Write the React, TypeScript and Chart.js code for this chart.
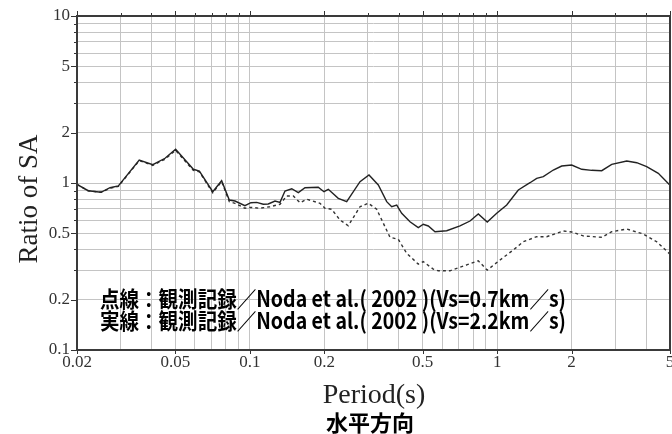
import React, { useEffect, useRef } from 'react';
import { Chart, registerables } from 'chart.js';

Chart.register(...registerables);

// 実線: Vs=2.2km/s
const solidPeriods = [0.02, 0.0222, 0.025, 0.0272, 0.0294, 0.0357, 0.0405, 0.0454, 0.0501, 0.0591, 0.0625, 0.0708, 0.0769, 0.0826, 0.0871, 0.0955, 0.101, 0.1066, 0.1133, 0.1187, 0.1264, 0.1324, 0.1387, 0.1477, 0.157, 0.1671, 0.189, 0.1994, 0.2076, 0.2278, 0.2464, 0.2789, 0.3032, 0.3307, 0.3576, 0.3746, 0.3926, 0.4112, 0.4442, 0.4798, 0.5028, 0.5267, 0.5606, 0.6252, 0.7075, 0.7768, 0.839, 0.912, 0.996, 1.093, 1.218, 1.358, 1.445, 1.537, 1.687, 1.824, 2.002, 2.198, 2.412, 2.648, 2.906, 3.342, 3.668, 4.024, 4.484, 5.0];
const solidRatios = [0.98, 0.899, 0.88, 0.937, 0.96, 1.373, 1.287, 1.406, 1.591, 1.208, 1.18, 0.887, 1.032, 0.791, 0.78, 0.731, 0.762, 0.766, 0.746, 0.749, 0.78, 0.766, 0.896, 0.924, 0.875, 0.937, 0.943, 0.887, 0.917, 0.81, 0.773, 1.018, 1.117, 0.973, 0.773, 0.721, 0.738, 0.659, 0.586, 0.54, 0.566, 0.553, 0.511, 0.518, 0.553, 0.592, 0.652, 0.584, 0.659, 0.738, 0.908, 1.004, 1.067, 1.091, 1.196, 1.264, 1.282, 1.208, 1.191, 1.185, 1.294, 1.354, 1.323, 1.252, 1.143, 0.97];

// 点線: Vs=0.7km/s
const dottedPeriods = [0.02, 0.0222, 0.025, 0.0272, 0.0294, 0.0357, 0.0405, 0.0454, 0.0501, 0.0591, 0.0625, 0.0708, 0.0769, 0.0826, 0.0871, 0.0955, 0.1001, 0.1099, 0.1206, 0.1324, 0.1409, 0.1499, 0.1595, 0.1698, 0.1922, 0.2013, 0.2142, 0.2315, 0.25, 0.2789, 0.3013, 0.3258, 0.3688, 0.3984, 0.4308, 0.4798, 0.5028, 0.5518, 0.578, 0.6446, 0.753, 0.839, 0.912, 1.027, 1.162, 1.275, 1.445, 1.586, 1.851, 2.002, 2.23, 2.648, 2.906, 3.342, 3.9, 4.418, 5.0];
const dottedRatios = [0.98, 0.899, 0.88, 0.93, 0.955, 1.36, 1.275, 1.39, 1.57, 1.19, 1.165, 0.875, 1.02, 0.773, 0.756, 0.706, 0.715, 0.706, 0.721, 0.746, 0.836, 0.836, 0.762, 0.799, 0.756, 0.706, 0.696, 0.6, 0.555, 0.721, 0.756, 0.696, 0.473, 0.46, 0.379, 0.327, 0.338, 0.305, 0.298, 0.298, 0.323, 0.342, 0.301, 0.346, 0.397, 0.445, 0.477, 0.477, 0.516, 0.509, 0.482, 0.473, 0.511, 0.53, 0.495, 0.445, 0.375];

const xGridValues = [0.02, 0.03, 0.04, 0.05, 0.06, 0.07, 0.08, 0.09, 0.1, 0.2, 0.3, 0.4, 0.5, 0.6, 0.7, 0.8, 0.9, 1, 2, 3, 4, 5];
const xLabelValues = [0.02, 0.05, 0.1, 0.2, 0.5, 1, 2, 5];
const yGridValues = [0.1, 0.2, 0.3, 0.4, 0.5, 0.6, 0.7, 0.8, 0.9, 1, 2, 3, 4, 5, 6, 7, 8, 9, 10];
const yLabelValues = [0.1, 0.2, 0.5, 1, 2, 5, 10];

const xTitle = 'Period(s)';
const yTitle = 'Ratio of SA';
const bottomTitle = '水平方向';
const noteLines = [
  '点線：観測記録／Noda et al.( 2002 )(Vs=0.7km／s)',
  '実線：観測記録／Noda et al.( 2002 )(Vs=2.2km／s)',
];

const isIn = (list: number[], v: number) => list.some((t) => Math.abs(t - v) < 1e-9 * Math.max(1, t) + 1e-12);

const decorPlugin = {
  id: 'decor',
  afterDraw(chart: any) {
    const { ctx, chartArea: a, scales } = chart;
    const xs = scales.x;
    const ys = scales.y;
    ctx.save();
    // ticks
    ctx.strokeStyle = '#333';
    ctx.lineWidth = 1;
    ctx.beginPath();
    xGridValues.forEach((v) => {
      const px = Math.round(xs.getPixelForValue(v)) + 0.5;
      const major = isIn(xLabelValues, v);
      const lenTop = major ? 5 : 3;
      ctx.moveTo(px, a.top);
      ctx.lineTo(px, a.top - lenTop);
      if (major) {
        ctx.moveTo(px, a.bottom);
        ctx.lineTo(px, a.bottom + 4);
      }
    });
    yGridValues.forEach((v) => {
      const py = Math.round(ys.getPixelForValue(v)) + 0.5;
      const major = isIn(yLabelValues, v);
      const len = major ? 6 : 3;
      ctx.moveTo(a.left, py);
      ctx.lineTo(a.left - len, py);
    });
    ctx.stroke();
    // frame
    ctx.strokeStyle = '#3a3a3a';
    ctx.lineWidth = 2;
    ctx.strokeRect(a.left, a.top, a.right - a.left, a.bottom - a.top);

    // notes
    ctx.fillStyle = '#000';
    ctx.font = 'bold 22px "Noto Sans CJK JP"';
    ctx.textBaseline = 'middle';
    ctx.textAlign = 'left';
    const noteLeft = 100;
    const noteRight = 566;
    const noteY = [299, 321];
    noteLines.forEach((t, i) => {
      const w = ctx.measureText(t).width;
      const sx = (noteRight - noteLeft) / w;
      ctx.save();
      ctx.translate(noteLeft, noteY[i]);
      ctx.scale(sx, 1);
      ctx.fillText(t, 0, 0);
      ctx.restore();
    });

    // axis titles
    ctx.fillStyle = '#222';
    ctx.font = '28px "Liberation Serif"';
    ctx.textAlign = 'center';
    ctx.textBaseline = 'alphabetic';
    ctx.fillText(xTitle, 374, 403);

    ctx.save();
    ctx.translate(37, 199);
    ctx.rotate(-Math.PI / 2);
    ctx.font = '27px "Liberation Serif"';
    ctx.fillText(yTitle, 0, 0);
    ctx.restore();

    ctx.fillStyle = '#000';
    ctx.font = 'bold 22px "Noto Sans CJK JP"';
    ctx.textBaseline = 'middle';
    ctx.fillText(bottomTitle, 370, 423);
    ctx.restore();
  },
};

export default function App() {
  const canvasRef = useRef<HTMLCanvasElement | null>(null);

  useEffect(() => {
    document.body.style.margin = '0';
    const canvas = canvasRef.current;
    if (!canvas) return;
    const chart = new Chart(canvas, {
      type: 'line',
      data: {
        datasets: [
          {
            label: 'Vs=2.2km/s',
            data: solidPeriods.map((p, i) => ({ x: p, y: solidRatios[i] })),
            borderColor: '#222',
            borderWidth: 1.4,
            pointRadius: 0,
            tension: 0,
            fill: false,
          },
          {
            label: 'Vs=0.7km/s',
            data: dottedPeriods.map((p, i) => ({ x: p, y: dottedRatios[i] })),
            borderColor: '#333',
            borderWidth: 1.4,
            borderDash: [3, 3],
            pointRadius: 0,
            tension: 0,
            fill: false,
          },
        ],
      },
      options: {
        responsive: false,
        devicePixelRatio: 1,
        animation: false,
        events: [],
        layout: { padding: { left: 0, right: 2, top: 16, bottom: 0 } },
        plugins: { legend: { display: false }, tooltip: { enabled: false }, title: { display: false } },
        scales: {
          x: {
            type: 'logarithmic',
            min: 0.02,
            max: 5,
            afterBuildTicks: (scale: any) => {
              scale.ticks = xGridValues.map((v) => ({ value: v }));
            },
            afterFit: (scale: any) => {
              scale.height = 84;
              scale.paddingLeft = 0;
              scale.paddingRight = 0;
            },
            grid: { color: '#c4c4c4', lineWidth: 1, drawTicks: false },
            border: { display: false },
            ticks: {
              autoSkip: false,
              maxRotation: 0,
              minRotation: 0,
              padding: 2,
              color: '#333',
              font: { family: '"Liberation Serif"', size: 17 },
              callback: (value: any) => (isIn(xLabelValues, Number(value)) ? String(Number(value)) : ''),
            },
          },
          y: {
            type: 'logarithmic',
            min: 0.1,
            max: 10,
            afterBuildTicks: (scale: any) => {
              scale.ticks = yGridValues.map((v) => ({ value: v }));
            },
            afterFit: (scale: any) => {
              scale.width = 77;
              scale.paddingTop = 0;
              scale.paddingBottom = 0;
            },
            grid: { color: '#c4c4c4', lineWidth: 1, drawTicks: false },
            border: { display: false },
            ticks: {
              autoSkip: false,
              padding: 7,
              color: '#333',
              font: { family: '"Liberation Serif"', size: 17 },
              callback: (value: any) => (isIn(yLabelValues, Number(value)) ? String(Number(value)) : ''),
            },
          },
        },
      },
      plugins: [decorPlugin],
    } as any);
    return () => chart.destroy();
  }, []);

  return (
    <div style={{ width: 672, height: 434, position: 'relative', background: '#fff' }}>
      <canvas ref={canvasRef} width={672} height={434} style={{ display: 'block' }} />
    </div>
  );
}
